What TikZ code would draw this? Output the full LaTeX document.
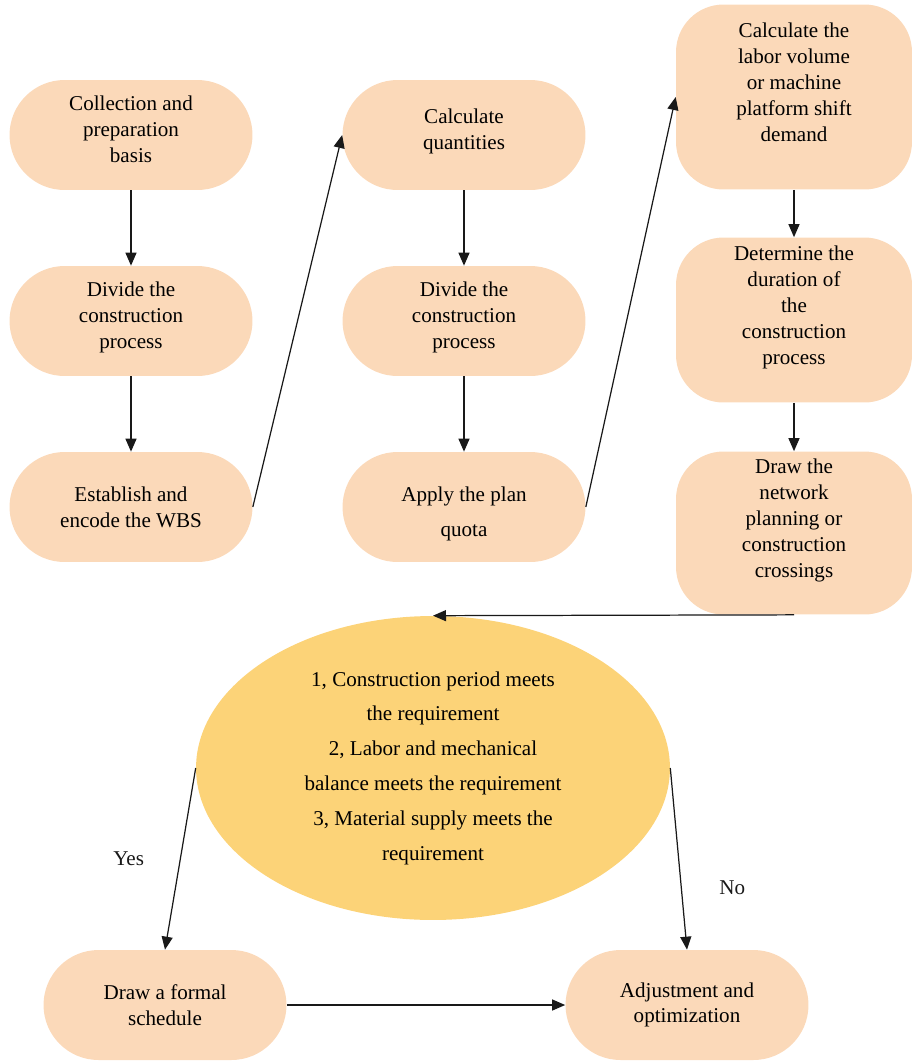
\documentclass[tikz,border=0pt]{standalone}
\usepackage{fontspec}
\setmainfont{Liberation Serif}
\usetikzlibrary{shapes.geometric,arrows.meta}
\definecolor{peach}{RGB}{251,217,185}
\definecolor{gold}{RGB}{252,211,120}
\begin{document}
\begin{tikzpicture}[x=0.02cm,y=-0.02cm,
	stepbox/.style={fill=peach, draw=none, rounded corners=1.1cm, minimum width=4.86cm, minimum height=2.2cm, align=center, font=\fontsize{12}{14.7}\selectfont, inner sep=2pt},
	tallbox/.style={fill=peach, draw=none, rounded corners=0.95cm, minimum width=4.72cm, align=center, font=\fontsize{12}{14.7}\selectfont, inner sep=2pt},
	checkbox/.style={ellipse, fill=gold, draw=none, minimum width=9.48cm, minimum height=6.08cm, inner sep=0pt, align=center, font=\fontsize{12}{19.8}\selectfont},
	link/.style={-{Triangle[length=0.26cm,width=0.22cm]}, line width=0.7pt, black!90}]
	
	\useasboundingbox (0,0) rectangle (912,1062);
	
	% First column
	\node[stepbox] (collect) at (131,135) {Collection and\\preparation\\basis\\[-8pt]\mbox{}};
	\node[stepbox] (divideA) at (131,321) {Divide the\\construction\\process\\[-8pt]\mbox{}};
	\node[stepbox] (wbs) at (131,507) {Establish and\\encode the WBS};
	
	% Second column
	\node[stepbox] (quant) at (464,135) {Calculate\\quantities\\[-8pt]\mbox{}};
	\node[stepbox] (divideB) at (464,321) {Divide the\\construction\\process\\[-8pt]\mbox{}};
	\node[stepbox] (quota) at (464,507) {\rule{0pt}{16.5pt}Apply the plan\\[5pt]quota};
	
	% Third column
	\node[tallbox, minimum height=3.7cm] (labor) at (794,97) {Calculate the\\labor volume\\or machine\\platform shift\\demand\\[2pt]\mbox{}};
	\node[tallbox, minimum height=3.3cm] (dur) at (794,320) {Determine the\\duration of\\the\\construction\\process\\[2pt]\mbox{}};
	\node[tallbox, minimum height=3.26cm] (net) at (794,533) {Draw the\\network\\planning or\\construction\\crossings\\[2pt]\mbox{}};
	
	% Check
	\node[checkbox] (check) at (433,768) {1, Construction period meets\\the requirement\\2, Labor and mechanical\\balance meets the requirement\\3, Material supply meets the\\requirement};
	
	% Results
	\node[stepbox] (formal) at (165,1005) {Draw a formal\\schedule};
	\node[stepbox] (adjust) at (687,1005) {Adjustment and\\optimization};
	
	% Arrows
	\draw[link] (collect) -- (divideA);
	\draw[link] (divideA) -- (wbs);
	\draw[link] (wbs.east) -- (quant.west);
	\draw[link] (quant) -- (divideB);
	\draw[link] (divideB) -- (quota);
	\draw[link] (quota.east) -- (labor.west);
	\draw[link] (labor) -- (dur);
	\draw[link] (dur) -- (net);
	\draw[link] (net.south) -- (check.north);
	\draw[link] (check.west) -- node[pos=0.5, left=17pt, font=\fontsize{12}{14}\selectfont] {Yes} (formal.north);
	\draw[link] (check.east) -- node[pos=0.66, right=18pt, font=\fontsize{12}{14}\selectfont] {No} (adjust.north);
	\draw[link] (formal) -- (adjust);
	
\end{tikzpicture}
\end{document}
